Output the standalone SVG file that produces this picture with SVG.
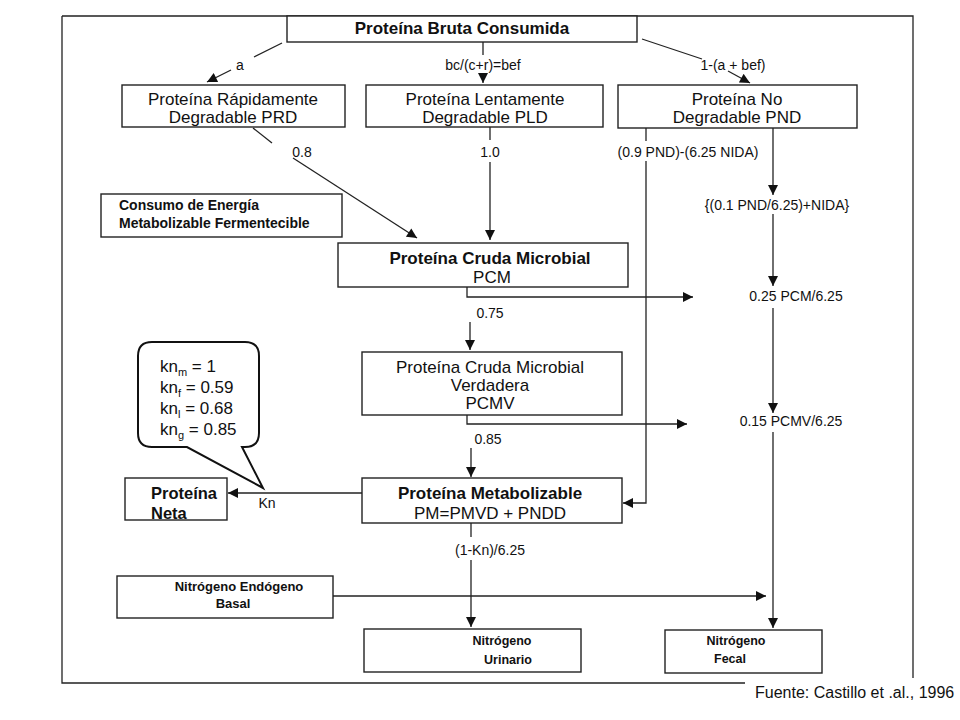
<svg xmlns="http://www.w3.org/2000/svg" width="960" height="720" viewBox="0 0 960 720">
<defs>
<marker id="ah" viewBox="0 0 10 10" refX="10" refY="5" markerWidth="11" markerHeight="10" markerUnits="userSpaceOnUse" orient="auto">
<path d="M0,0 L10,5 L0,10 z" fill="#111"/>
</marker>
</defs>
<style>
.box{fill:#fff;stroke:#222;stroke-width:1.4}
.ln{fill:none;stroke:#222;stroke-width:1.3}
.t{font-family:"Liberation Sans",Arial,sans-serif;fill:#111}
.b{font-weight:bold}
.lbl{font-family:"Liberation Sans",Arial,sans-serif;fill:#111;font-size:14px;text-anchor:middle}
.c{text-anchor:middle}
</style>
<rect width="960" height="720" fill="#fff"/>
<g id="frame">
<path class="ln" d="M62,16 L913,16 L913,678 M62,16 L62,683 L745,683" stroke-width="1.6"/>
</g>
<g id="connectors">
<path class="ln" d="M282,43 L254,57"/>
<path class="ln" d="M231,70 L207,82" marker-end="url(#ah)"/>
<path class="ln" d="M483,42 L483,55"/>
<path class="ln" d="M483,73 L483,83" marker-end="url(#ah)"/>
<path class="ln" d="M642,39 L702,59"/>
<path class="ln" d="M728,71 L750,83" marker-end="url(#ah)"/>
<path class="ln" d="M253,128 L272,143"/>
<path class="ln" d="M293,158 L417,238" marker-end="url(#ah)"/>
<path class="ln" d="M490,127 L490,140"/>
<path class="ln" d="M490,162 L490,240" marker-end="url(#ah)"/>
<path class="ln" d="M467,287 L467,297 L693,297" marker-end="url(#ah)"/>
<path class="ln" d="M470,322 L470,350" marker-end="url(#ah)"/>
<path class="ln" d="M467,415 L467,424 L687,424" marker-end="url(#ah)"/>
<path class="ln" d="M471,448 L471,477" marker-end="url(#ah)"/>
<path class="ln" d="M362,493 L228,493" marker-end="url(#ah)"/>
<path class="ln" d="M471,523 L471,537"/>
<path class="ln" d="M471,560 L471,627" marker-end="url(#ah)"/>
<path class="ln" d="M646,128 L646,141"/>
<path class="ln" d="M646,161 L646,503 L623,503" marker-end="url(#ah)"/>
<path class="ln" d="M773,128 L773,195" marker-end="url(#ah)"/>
<path class="ln" d="M773,214 L773,286" marker-end="url(#ah)"/>
<path class="ln" d="M773,308 L773,413" marker-end="url(#ah)"/>
<path class="ln" d="M773,432 L773,628" marker-end="url(#ah)"/>
<path class="ln" d="M333,596 L766,596" marker-end="url(#ah)"/>
<text class="lbl" x="240" y="70">a</text>
<text class="lbl" x="483" y="70" font-size="13.5">bc/(c+r)=bef</text>
<text class="lbl" x="733" y="70" font-size="13.5">1-(a + bef)</text>
<text class="lbl" x="302" y="157">0.8</text>
<text class="lbl" x="490" y="157">1.0</text>
<text class="lbl" x="688" y="157">(0.9 PND)-(6.25 NIDA)</text>
<text class="lbl" x="777" y="210" font-size="13.5">{(0.1 PND/6.25)+NIDA}</text>
<text class="lbl" x="796" y="301">0.25 PCM/6.25</text>
<text class="lbl" x="490" y="318">0.75</text>
<text class="lbl" x="791" y="426">0.15 PCMV/6.25</text>
<text class="lbl" x="488" y="444">0.85</text>
<text class="lbl" x="267" y="508">Kn</text>
<text class="lbl" x="490" y="555">(1-Kn)/6.25</text>
</g>
<g id="pbc">
<rect class="box" x="287" y="16" width="350" height="26"/>
<text class="t b c" x="462" y="34" font-size="17">Proteína Bruta Consumida</text>
</g>
<g id="prd">
<rect class="box" x="122" y="85" width="223" height="42"/>
<text class="t c" x="233" y="105" font-size="17">Proteína Rápidamente</text>
<text class="t c" x="233" y="123" font-size="17">Degradable PRD</text>
</g>
<g id="pld">
<rect class="box" x="366" y="85" width="237" height="42"/>
<text class="t c" x="485" y="105" font-size="17">Proteína Lentamente</text>
<text class="t c" x="485" y="123" font-size="17">Degradable PLD</text>
</g>
<g id="pnd">
<rect class="box" x="618" y="85" width="239" height="43"/>
<text class="t c" x="737" y="105" font-size="17">Proteína No</text>
<text class="t c" x="737" y="123" font-size="17">Degradable PND</text>
</g>
<g id="cemf">
<rect class="box" x="101" y="194" width="241" height="43"/>
<text class="t b" x="119" y="210" font-size="14">Consumo de Energía</text>
<text class="t b" x="119" y="228" font-size="14">Metabolizable Fermentecible</text>
</g>
<g id="pcm">
<rect class="box" x="338" y="243" width="290" height="44"/>
<text class="t b c" x="490" y="264" font-size="17">Proteína Cruda Microbial</text>
<text class="t c" x="492" y="283" font-size="17">PCM</text>
</g>
<g id="pcmv">
<rect class="box" x="362" y="352" width="260" height="63"/>
<text class="t c" x="490" y="373" font-size="17">Proteína Cruda Microbial</text>
<text class="t c" x="490" y="391" font-size="17">Verdadera</text>
<text class="t c" x="490" y="409" font-size="17">PCMV</text>
</g>
<g id="pm">
<rect class="box" x="362" y="478" width="260" height="45"/>
<text class="t b c" x="490" y="499" font-size="17">Proteína Metabolizable</text>
<text class="t c" x="490" y="519" font-size="17">PM=PMVD + PNDD</text>
</g>
<g id="neta">
<rect class="box" x="125" y="478" width="102" height="42"/>
<text class="t b" x="151" y="499" font-size="16.5">Proteína</text>
<text class="t b" x="151" y="519" font-size="16.5">Neta</text>
</g>
<g id="callout">
<path d="M152,342 L245,342 Q259,342 259,356 L259,433 Q259,447 245,447 L242,447 L263,488 L187,447 L152,447 Q138,447 138,433 L138,356 Q138,342 152,342 Z" fill="#fff" stroke="#111" stroke-width="2"/>
<text class="t" x="160" y="372" font-size="17">kn<tspan font-size="11" dy="4">m</tspan><tspan dy="-4"> = 1</tspan></text>
<text class="t" x="160" y="393" font-size="17">kn<tspan font-size="11" dy="4">f</tspan><tspan dy="-4"> = 0.59</tspan></text>
<text class="t" x="160" y="414" font-size="17">kn<tspan font-size="11" dy="4">l</tspan><tspan dy="-4"> = 0.68</tspan></text>
<text class="t" x="160" y="435" font-size="17">kn<tspan font-size="11" dy="4">g</tspan><tspan dy="-4"> = 0.85</tspan></text>
</g>
<g id="neb">
<rect class="box" x="117" y="576" width="216" height="42"/>
<text class="t b c" x="239" y="591" font-size="13">Nitrógeno Endógeno</text>
<text class="t b c" x="233" y="608" font-size="13">Basal</text>
</g>
<g id="nu">
<rect class="box" x="364" y="629" width="217" height="43"/>
<text class="t b c" x="502" y="645" font-size="12.5">Nitrógeno</text>
<text class="t b c" x="508" y="664" font-size="12.5">Urinario</text>
</g>
<g id="nf">
<rect class="box" x="665" y="630" width="157" height="43"/>
<text class="t b c" x="736" y="645" font-size="12.5">Nitrógeno</text>
<text class="t b c" x="730" y="663" font-size="12.5">Fecal</text>
</g>
<g id="fuente">
<text class="t" x="755" y="698" font-size="16" fill="#222">Fuente: Castillo et .al., 1996</text>
</g>
</svg>
